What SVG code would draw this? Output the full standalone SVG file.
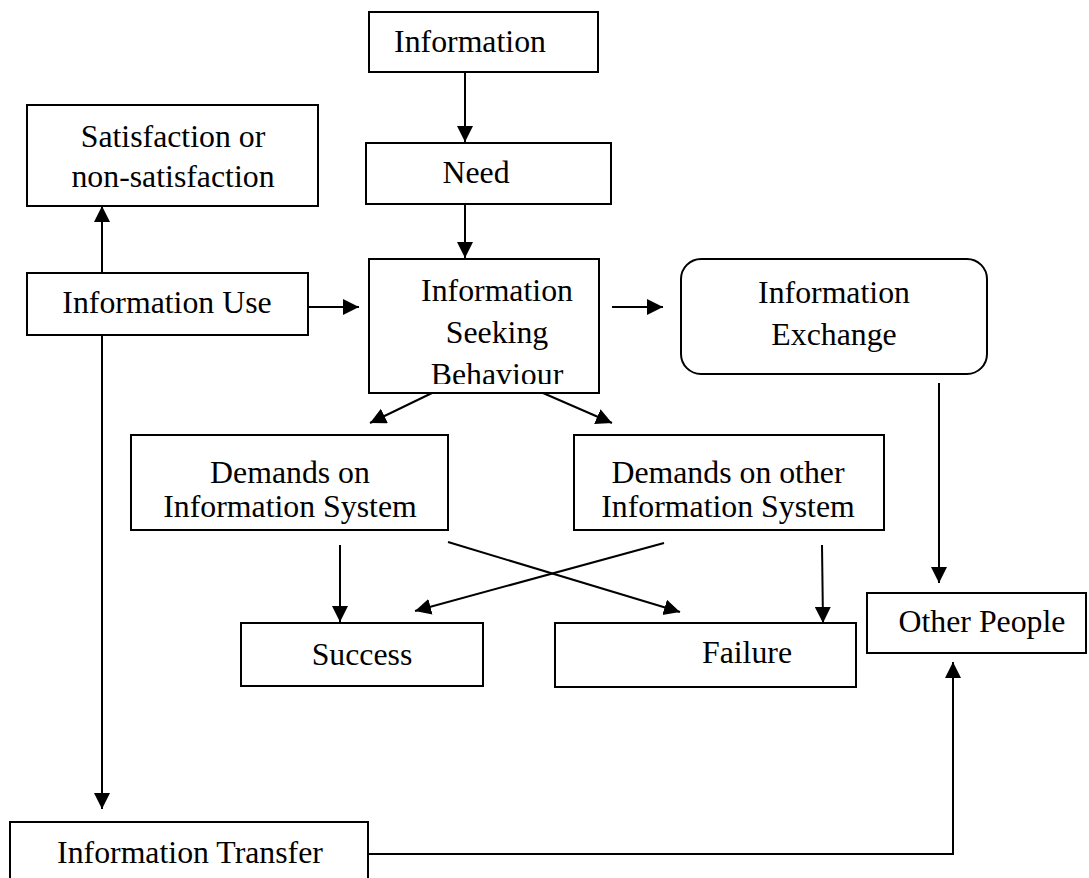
<svg xmlns="http://www.w3.org/2000/svg" width="1089" height="878" viewBox="0 0 1089 878">
<style>
.box{fill:#fff;stroke:#000;stroke-width:2}
.t{font-family:"Liberation Serif","Times New Roman",serif;font-size:31.8px;fill:#000;text-anchor:middle}
.c{fill:none;stroke:#000;stroke-width:2}
</style>
<defs>
<marker id="ah" markerUnits="userSpaceOnUse" markerWidth="20" markerHeight="20" refX="16" refY="8" orient="auto">
<path d="M0,0 L16,8 L0,16 Z" fill="#000"/>
</marker>
<clipPath id="isbclip"><rect x="369" y="259" width="230" height="125"/></clipPath>
</defs>
<g id="connectors">
<line class="c" x1="465" y1="72" x2="465" y2="142" marker-end="url(#ah)"/>
<line class="c" x1="465" y1="204" x2="465" y2="258" marker-end="url(#ah)"/>
<line class="c" x1="102" y1="273" x2="102" y2="206" marker-end="url(#ah)"/>
<line class="c" x1="308" y1="307" x2="359" y2="307" marker-end="url(#ah)"/>
<line class="c" x1="612" y1="307" x2="663" y2="307" marker-end="url(#ah)"/>
<line class="c" x1="102" y1="335" x2="102" y2="809" marker-end="url(#ah)"/>
<line class="c" x1="432" y1="393" x2="370" y2="423" marker-end="url(#ah)"/>
<line class="c" x1="543" y1="393" x2="612" y2="423" marker-end="url(#ah)"/>
<line class="c" x1="340" y1="545" x2="340" y2="622" marker-end="url(#ah)"/>
<line class="c" x1="448" y1="542" x2="680" y2="612" marker-end="url(#ah)"/>
<line class="c" x1="664" y1="543" x2="415" y2="611" marker-end="url(#ah)"/>
<line class="c" x1="822" y1="545" x2="823" y2="623" marker-end="url(#ah)"/>
<line class="c" x1="939" y1="383" x2="939" y2="583" marker-end="url(#ah)"/>
<polyline class="c" points="368,854 953,854 953,662" marker-end="url(#ah)"/>
</g>
<g id="information">
<rect class="box" x="369" y="12" width="229" height="60"/>
<text class="t" x="470" y="52">Information</text>
</g>
<g id="need">
<rect class="box" x="366" y="143" width="245" height="61"/>
<text class="t" x="476" y="183">Need</text>
</g>
<g id="satisfaction">
<rect class="box" x="27" y="105" width="291" height="101"/>
<text class="t" x="173" y="147">Satisfaction or</text>
<text class="t" x="173" y="187">non-satisfaction</text>
</g>
<g id="information-use">
<rect class="box" x="27" y="273" width="281" height="62"/>
<text class="t" x="167" y="313">Information Use</text>
</g>
<g id="information-seeking-behaviour">
<rect class="box" x="369" y="259" width="230" height="134"/>
<g clip-path="url(#isbclip)">
<text class="t" x="497" y="301">Information</text>
<text class="t" x="497" y="343">Seeking</text>
<text class="t" x="497" y="385">Behaviour</text>
</g>
</g>
<g id="information-exchange">
<rect class="box" x="681" y="259" width="306" height="115" rx="20" ry="20"/>
<text class="t" x="834" y="303">Information</text>
<text class="t" x="834" y="345">Exchange</text>
</g>
<g id="demands-is">
<rect class="box" x="131" y="435" width="317" height="95"/>
<text class="t" x="290" y="483">Demands on</text>
<text class="t" x="290" y="517">Information System</text>
</g>
<g id="demands-other-is">
<rect class="box" x="574" y="435" width="310" height="95"/>
<text class="t" x="728" y="483">Demands on other</text>
<text class="t" x="728" y="517">Information System</text>
</g>
<g id="success">
<rect class="box" x="241" y="623" width="242" height="63"/>
<text class="t" x="362" y="665">Success</text>
</g>
<g id="failure">
<rect class="box" x="555" y="623" width="301" height="64"/>
<text class="t" x="747" y="663">Failure</text>
</g>
<g id="other-people">
<rect class="box" x="867" y="593" width="219" height="60"/>
<text class="t" x="982" y="632">Other People</text>
</g>
<g id="information-transfer">
<rect class="box" x="10" y="822" width="358" height="70"/>
<text class="t" x="190" y="863">Information Transfer</text>
</g>
</svg>
